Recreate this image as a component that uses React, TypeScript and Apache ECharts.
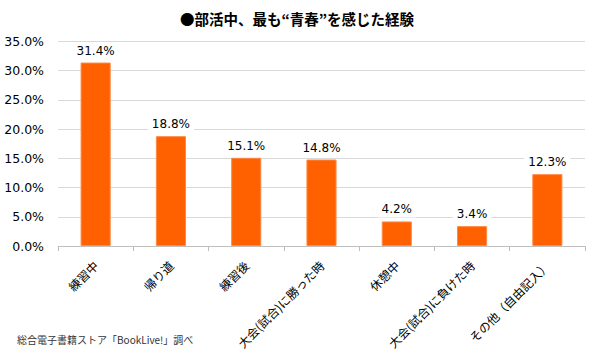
import React, { useEffect, useRef } from "react";
import * as echarts from "echarts";

const categories = ["練習中", "帰り道", "練習後", "大会(試合)に勝った時", "休憩中", "大会(試合)に負けた時", "その他（自由記入）"];
const values = [31.4, 18.8, 15.1, 14.8, 4.2, 3.4, 12.3];
const titleText = "●部活中、最も“青春”を感じた経験";
const sourceText = "総合電子書籍ストア「BookLive!」調べ";

export default function App() {
  const ref = useRef<HTMLDivElement>(null);
  useEffect(() => {
    if (!ref.current) return;
    const chart = echarts.init(ref.current, null, { renderer: "svg" });
    chart.setOption({
      animation: false,
      backgroundColor: "#ffffff",
      title: {
        text: titleText,
        left: 292,
        textAlign: "center",
        top: 6,
        textStyle: { fontFamily: "Noto Sans CJK JP", fontSize: 14.5, fontWeight: "bold", color: "#000" },
      },
      graphic: [
        {
          type: "text",
          left: 17,
          top: 334,
          style: { text: sourceText, fontFamily: "Noto Sans CJK JP", fontSize: 10, fill: "#333" },
        },
      ],
      grid: { left: 58, right: 4, top: 41.5, bottom: 112, containLabel: false },
      xAxis: {
        type: "category",
        data: categories,
        axisLine: { lineStyle: { color: "#BFBFBF" } },
        axisTick: { show: true, alignWithLabel: false, length: 5, lineStyle: { color: "#BFBFBF" } },
        axisLabel: {
          rotate: 45,
          interval: 0,
          margin: 17,
          fontFamily: "Noto Sans CJK JP",
          fontSize: 12,
          color: "#000",
        },
      },
      yAxis: {
        type: "value",
        min: 0,
        max: 35,
        interval: 5,
        axisLine: { show: false },
        axisTick: { show: false },
        splitLine: { lineStyle: { color: "#D9D9D9" } },
        axisLabel: {
          formatter: (v: number) => v.toFixed(1) + "%",
          fontFamily: "DejaVu Sans",
          fontSize: 12.5,
          color: "#000",
          margin: 14,
        },
      },
      series: [
        {
          type: "bar",
          data: values,
          barWidth: "40%",
          itemStyle: { color: "#FF6000", borderColor: "#FF8A45", borderWidth: 1 },
          label: {
            show: true,
            position: "top",
            distance: 4,
            formatter: (p: any) => p.value.toFixed(1) + "%",
            fontFamily: "DejaVu Sans",
            fontSize: 12,
            color: "#000",
            backgroundColor: "#fff",
            padding: [2, 4],
          },
        },
      ],
    });
    return () => chart.dispose();
  }, []);
  return <div ref={ref} style={{ position: "fixed", left: 0, top: 0, width: 589, height: 358 }} />;
}
